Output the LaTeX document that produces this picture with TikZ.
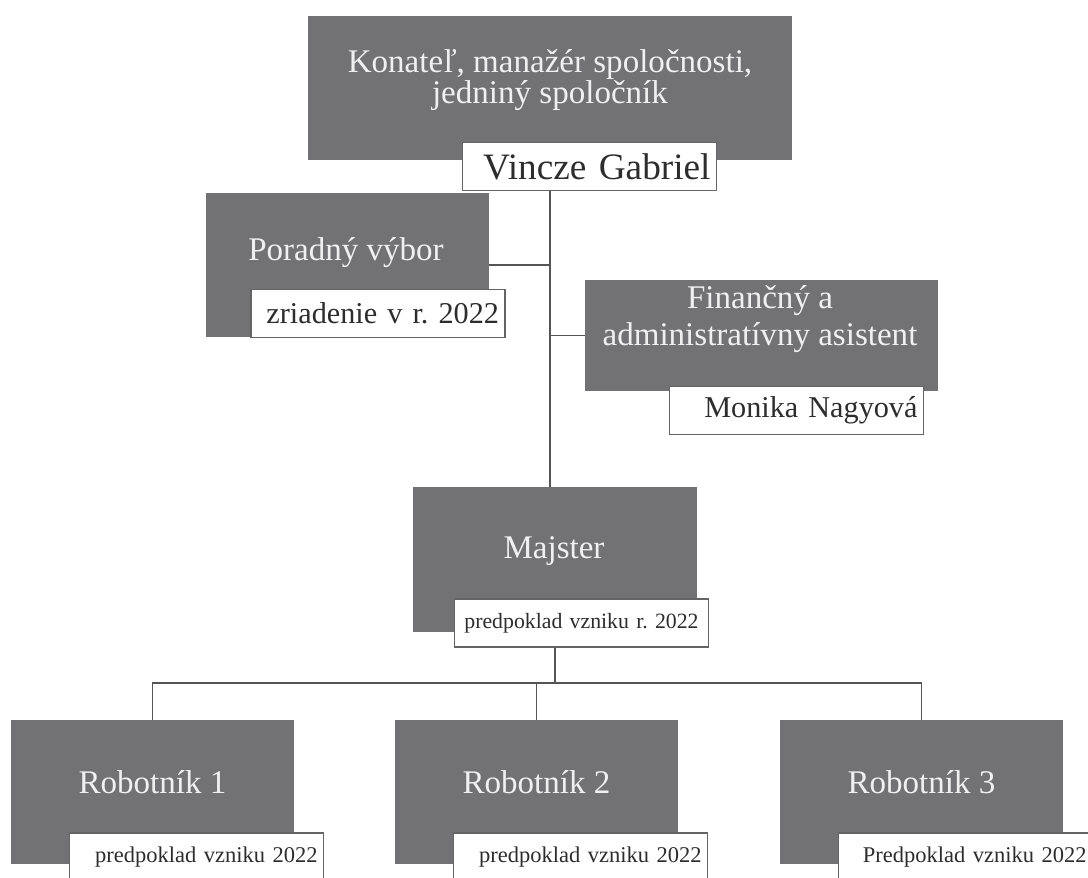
\documentclass[tikz,border=0pt]{standalone}
\usepackage{fontspec}
\setmainfont{Liberation Serif}
\usetikzlibrary{positioning}
\frenchspacing

\definecolor{unitgray}{RGB}{114,114,116}
\definecolor{unittxt}{RGB}{240,240,240}
\definecolor{taggray}{RGB}{100,100,100}
\definecolor{tagtxt}{RGB}{45,45,45}
\definecolor{linegray}{RGB}{85,85,85}

\tikzset{
    unit/.style={fill=unitgray, minimum width=7.075cm, minimum height=3.6cm, inner sep=0pt},
    unittext/.style={text=unittxt, font=\fontsize{23.5}{28}\selectfont, align=center, inner sep=0pt},
    tag/.style={draw=taggray, line width=0.9pt, fill=white, text=tagtxt, minimum height=1.2cm,
        text width=6.05cm, align=right, inner xsep=0.15cm, font=\fontsize{21.5}{24}\selectfont},
    smalltag/.style={tag, font=\fontsize{16}{18}\selectfont},
    link/.style={draw=linegray, line width=1.3pt},
}

\begin{document}
\begin{tikzpicture}[x=0.025cm,y=-0.025cm]
        \clip (0,0) rectangle (1088,878);
        % konatel
        \node[unit, minimum width=12.1cm] (ceo) at (550,88) {};
        \node[unittext, font=\fontsize{23.5}{21.5}\selectfont] (ceotxt) at (550,80) {Konateľ, manažér spoločnosti,\\jedniný spoločník};
        \node[tag, font=\fontsize{26.5}{28}\selectfont] (vg) at (589.5,166.5) {Vincze Gabriel};
        % poradny vybor
        \node[unit] (board) at (347.5,265) {};
        \node[unittext] (boardtxt) at (346,253) {Poradný výbor};
        \node[tag] (boardtag) at (378,313.5) {zriadenie v r. 2022};
        % asistent
        \node[unit, minimum width=8.825cm, minimum height=2.775cm] (fin) at (761.5,335.5) {};
        \node[unittext, font=\fontsize{23.5}{26.5}\selectfont] (fintxt) at (760,319) {Finančný a\\administratívny asistent};
        \node[tag] (fintag) at (796.5,410.5) {Monika Nagyová};
        % majster
        \node[unit] (master) at (555,559.5) {};
        \node[unittext] (mastertxt) at (554,551) {Majster};
        \node[smalltag, font=\fontsize{15.5}{18}\selectfont, align=center] (mtag) at (581.5,623) {predpoklad vzniku r. 2022};
        % robotnici
        \foreach \i/\x/\t in {1/152.5/predpoklad, 2/536.5/predpoklad, 3/921.5/Predpoklad}{
            \node[unit] (rob\i) at (\x,792) {};
            \node[unittext] (robtxt\i) at (\x,782) {Robotník \i};
            \node[smalltag] (robtag\i) at (\x+44,857) {\t{} vzniku 2022};
        }
        % spojnice
        \coordinate (bus) at (555,683);
        \draw[link] (vg.south -| ceo.south) -- (master.north -| ceo.south);
        \draw[link] (board.east) -- (board.east -| ceo.south);
        \draw[link] (fin.west) -- (fin.west -| ceo.south);
        \draw[link] (mtag.south -| master.north) -- (bus);
        \draw[link] (rob1.north) |- (bus) -| (rob3.north);
        \draw[link] (bus -| rob2.north) -- (rob2.north);
\end{tikzpicture}
\end{document}
